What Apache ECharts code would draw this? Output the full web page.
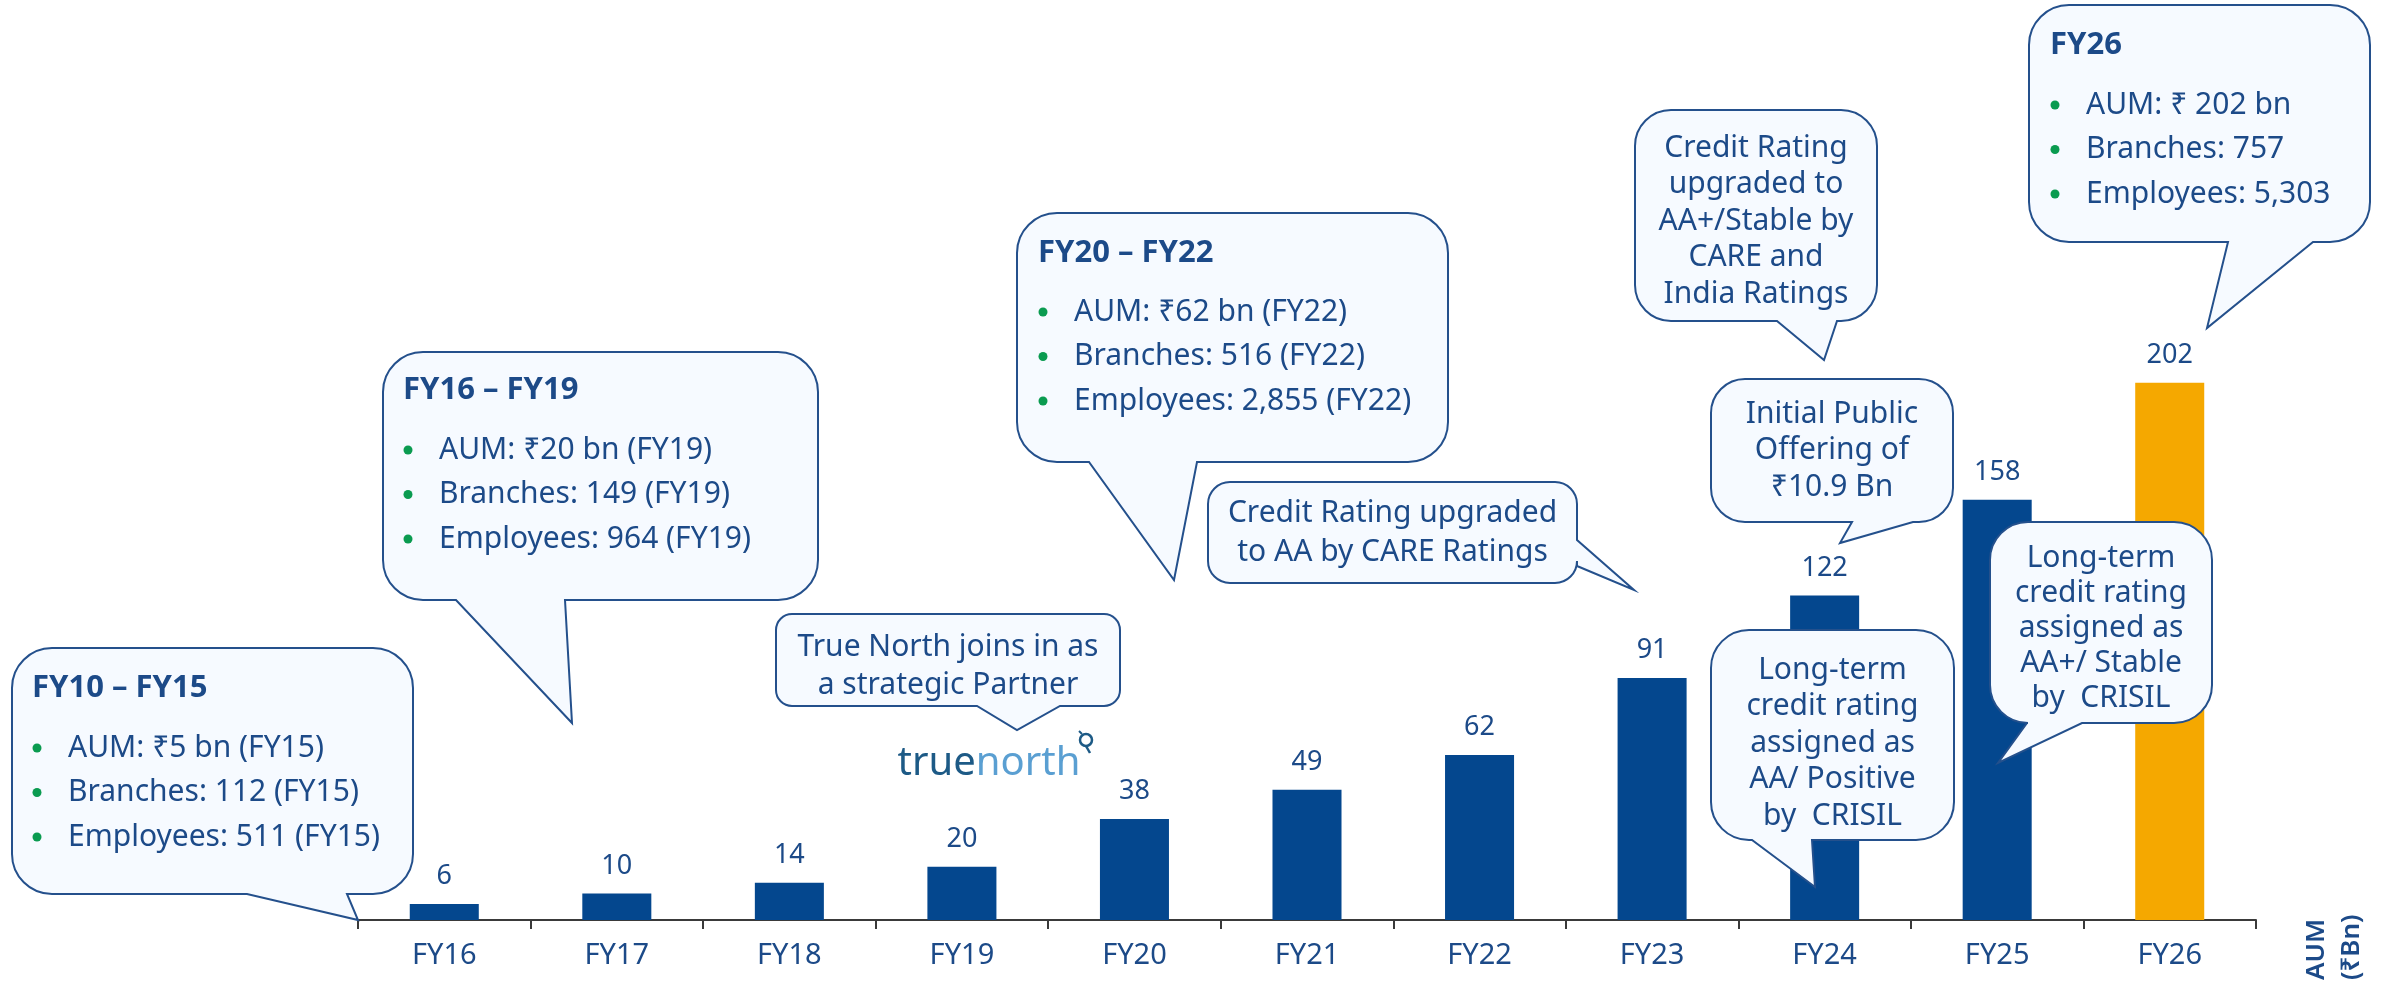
<!DOCTYPE html>
<html>
<head>
<meta charset="utf-8">
<title>AUM growth</title>
<script src="https://cdn.jsdelivr.net/npm/echarts@6.0.0/dist/echarts.min.js"></script>
<style>
  html, body { margin: 0; padding: 0; background: #fff; }
  #chart { width: 2387px; height: 986px; }
</style>
</head>
<body>
<div id="chart"></div>
<script>
// data
var years = ['FY16', 'FY17', 'FY18', 'FY19', 'FY20', 'FY21', 'FY22', 'FY23', 'FY24', 'FY25', 'FY26'];
var aum = [6, 10, 14, 20, 38, 49, 62, 91, 122, 158, 202];
var unitLines = ['AUM', '(₹Bn)'];

// callout texts
var periodTitles = ['FY10 – FY15', 'FY16 – FY19', 'FY20 – FY22', 'FY26'];
var periodBullets = [
  ['AUM: ₹5 bn (FY15)', 'Branches: 112 (FY15)', 'Employees: 511 (FY15)'],
  ['AUM: ₹20 bn (FY19)', 'Branches: 149 (FY19)', 'Employees: 964 (FY19)'],
  ['AUM: ₹62 bn (FY22)', 'Branches: 516 (FY22)', 'Employees: 2,855 (FY22)'],
  ['AUM: ₹ 202 bn', 'Branches: 757', 'Employees: 5,303']
];
var eventNotes = [
  ['True North joins in as', 'a strategic Partner'],
  ['Credit Rating upgraded', 'to AA by CARE Ratings'],
  ['Credit Rating', 'upgraded to', 'AA+/Stable by', 'CARE and', 'India Ratings'],
  ['Initial Public', 'Offering of', '₹10.9 Bn'],
  ['Long-term', 'credit rating', 'assigned as', 'AA/ Positive', 'by  CRISIL'],
  ['Long-term', 'credit rating', 'assigned as', 'AA+/ Stable', 'by  CRISIL']
];

var BLUE = '#04478e';
var ORANGE = '#f5a800';
var TEXT = '#1c4a88';
var BORDER = '#24508c';
var FILL = '#f6faff';
var GREEN = '#0a9b50';
var FONT = '"Noto Sans", "DejaVu Sans", sans-serif';

// rounded speech bubble, tail on the bottom or right edge
echarts.graphic.registerShape('bubble', echarts.graphic.extendShape({
  shape: { x: 0, y: 0, w: 0, h: 0, r: 0, side: 'bottom', a: 0, b: 0, tx: 0, ty: 0 },
  buildPath: function (ctx, s) {
    var x = s.x, y = s.y, r = s.r, R = s.x + s.w, B = s.y + s.h;
    ctx.moveTo(x + r, y);
    ctx.lineTo(R - r, y);
    ctx.arc(R - r, y + r, r, -Math.PI / 2, 0, false);
    if (s.side === 'right') {
      ctx.lineTo(R, s.a);
      ctx.lineTo(s.tx, s.ty);
      ctx.lineTo(R, s.b);
    }
    ctx.lineTo(R, B - r);
    ctx.arc(R - r, B - r, r, 0, Math.PI / 2, false);
    if (s.side === 'bottom') {
      ctx.lineTo(s.b, B);
      ctx.lineTo(s.tx, s.ty);
      ctx.lineTo(s.a, B);
    }
    ctx.lineTo(x + r, B);
    ctx.arc(x + r, B - r, r, Math.PI / 2, Math.PI, false);
    ctx.lineTo(x, y + r);
    ctx.arc(x + r, y + r, r, Math.PI, Math.PI * 1.5, false);
    ctx.closePath();
  }
}));

function bubble(b, t) {
  return {
    type: 'bubble', z: 100,
    shape: { x: b[0], y: b[1], w: b[2], h: b[3], r: b[4], side: t.side, a: t.a, b: t.b, tx: t.tip[0], ty: t.tip[1] },
    style: { fill: FILL, stroke: BORDER, lineWidth: 2 }
  };
}

function txt(x, y, s, font, align, color) {
  return {
    type: 'text', z: 101,
    style: { x: x, y: y, text: s, font: font, fill: color || TEXT, align: align || 'left', verticalAlign: 'middle' }
  };
}

var graphics = [];

// big period boxes
var periodBoxes = [
  { box: [12, 648, 401, 246, 40], tail: { side: 'bottom', a: 247, b: 347, tip: [358, 920] }, tx: 32, ty: 688, ly: 748 },
  { box: [383, 352, 435, 248, 40], tail: { side: 'bottom', a: 456, b: 565, tip: [572, 723] }, tx: 403, ty: 390, ly: 450 },
  { box: [1017, 213, 431, 249, 40], tail: { side: 'bottom', a: 1089, b: 1197, tip: [1174, 580] }, tx: 1038, ty: 253, ly: 312 },
  { box: [2029, 5, 341, 237, 40], tail: { side: 'bottom', a: 2228, b: 2313, tip: [2207, 328] }, tx: 2050, ty: 45, ly: 105 }
];
periodBoxes.forEach(function (p, i) {
  graphics.push(bubble(p.box, p.tail));
  graphics.push(txt(p.tx, p.ty, periodTitles[i], 'bold 31px ' + FONT));
  periodBullets[i].forEach(function (line, j) {
    var y = p.ly + j * 44.5;
    graphics.push({ type: 'circle', z: 101, shape: { cx: p.tx + 5, cy: y, r: 4.5 }, style: { fill: GREEN } });
    graphics.push(txt(p.tx + 36, y, line, '30px ' + FONT));
  });
});

// event notes
var eventBoxes = [
  { box: [776, 614, 344, 92, 16], tail: { side: 'bottom', a: 977, b: 1060, tip: [1017, 730] }, y0: 647, lh: 38 },
  { box: [1208, 482, 369, 101, 22], tail: { side: 'right', a: 540, b: 566, tip: [1634, 590] }, y0: 513, lh: 39 },
  { box: [1635, 110, 242, 211, 36], tail: { side: 'bottom', a: 1777, b: 1837, tip: [1824, 360] }, y0: 148, lh: 36.5 },
  { box: [1711, 379, 242, 143, 34], tail: { side: 'bottom', a: 1852, b: 1913, tip: [1840, 543] }, y0: 414, lh: 36.5 },
  { box: [1711, 630, 243, 210, 38], tail: { side: 'bottom', a: 1752, b: 1812, tip: [1815, 887] }, y0: 670, lh: 36.5 },
  { box: [1990, 522, 222, 201, 38], tail: { side: 'bottom', a: 2027, b: 2082, tip: [1998, 763] }, y0: 558, lh: 35 }
];
eventBoxes.forEach(function (e, i) {
  var b = e.box;
  graphics.push(bubble(b, e.tail));
  eventNotes[i].forEach(function (line, j) {
    graphics.push(txt(b[0] + b[2] / 2, e.y0 + j * e.lh, line, '30px ' + FONT, 'center'));
  });
});

// truenorth logo
graphics.push({
  type: 'text', z: 101,
  style: {
    x: 989, y: 764, text: '{a|true}{b|north}', align: 'center', verticalAlign: 'middle',
    rich: {
      a: { fill: '#1d5a86', font: '40px ' + FONT },
      b: { fill: '#5a9fd2', font: '40px ' + FONT }
    }
  }
});
graphics.push({ type: 'circle', z: 101, shape: { cx: 1086, cy: 740, r: 6 }, style: { fill: 'none', stroke: '#1d5a86', lineWidth: 2.5 } });
graphics.push({ type: 'line', z: 101, shape: { x1: 1086, y1: 746, x2: 1090, y2: 753 }, style: { stroke: '#1d5a86', lineWidth: 2.5 } });
graphics.push({ type: 'line', z: 101, shape: { x1: 1079, y1: 731, x2: 1082, y2: 734 }, style: { stroke: '#1d5a86', lineWidth: 2 } });

// axis unit, rotated
unitLines.forEach(function (s, i) {
  graphics.push({
    type: 'text', z: 101, x: 2317 + i * 35, y: 980, rotation: Math.PI / 2,
    style: { x: 0, y: 0, text: s, font: '600 26px ' + FONT, fill: TEXT, align: 'left', verticalAlign: 'middle' }
  });
});

var chart = echarts.init(document.getElementById('chart'));
chart.setOption({
  animation: false,
  backgroundColor: '#fff',
  grid: { left: 358, right: 131, top: 122, bottom: 66 },
  xAxis: {
    type: 'category',
    data: years,
    axisLine: { lineStyle: { color: '#3a3a3a', width: 2 } },
    axisTick: { show: true, length: 9, lineStyle: { color: '#3a3a3a', width: 2 } },
    axisLabel: { interval: 0, color: TEXT, fontSize: 29, fontFamily: FONT, margin: 21 }
  },
  yAxis: { type: 'value', min: 0, max: 300, show: false },
  series: [{
    type: 'bar',
    barWidth: '40%',
    data: aum.map(function (v, i) {
      return { value: v, itemStyle: { color: i === aum.length - 1 ? ORANGE : BLUE } };
    }),
    label: { show: true, position: 'top', distance: 14, color: TEXT, fontSize: 27, fontFamily: FONT }
  }],
  graphic: { elements: graphics }
});
</script>
</body>
</html>
